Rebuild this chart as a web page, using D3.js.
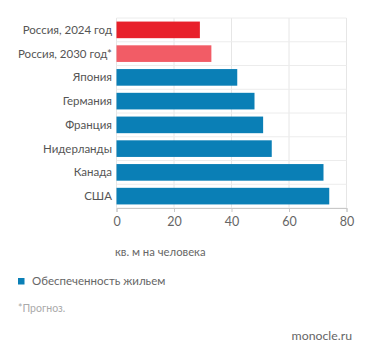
<!DOCTYPE html>
<html><head><meta charset="utf-8">
<script src="https://cdn.jsdelivr.net/npm/d3@7"></script>
<style>body{margin:0;background:#fff}svg{display:block}text{font-family:Lato,"Open Sans",sans-serif}</style>
</head><body>
<script>
const categories = ["Россия, 2024 год","Россия, 2030 год*","Япония","Германия","Франция","Нидерланды","Канада","США"];
const values = [29,33,42,48,51,54,72,74];
const barColors = ["#e8202a","#f25c66","#0a7fb6","#0a7fb6","#0a7fb6","#0a7fb6","#0a7fb6","#0a7fb6"];
const xTicks = [0,20,40,60,80];
const axisTitle = "кв. м на человека";
const legendLabel = "Обеспеченность жильем";
const note = "*Прогноз.";
const source = "monocle.ru";

const W=371,H=358;
const svg=d3.select("body").append("svg").attr("width",W).attr("height",H);
const x=d3.scaleLinear().domain([0,80]).range([116.5,346.5]);
const y=d3.scaleBand().domain(categories).range([18,208]).paddingInner(0.3).paddingOuter(0.15);

const g=svg.append("g");
g.selectAll("line.v").data(xTicks).join("line")
 .attr("x1",d=>x(d)).attr("x2",d=>x(d)).attr("y1",18).attr("y2",208)
 .attr("stroke","#e6e6e6").attr("stroke-width",1);
const bounds=categories.map(c=>y(c)-y.step()*y.paddingInner()/2).concat([208]);
g.selectAll("line.h").data(bounds).join("line")
 .attr("x1",x(0)).attr("x2",x(80)).attr("y1",d=>d).attr("y2",d=>d)
 .attr("stroke","#ececec").attr("stroke-width",1);

svg.selectAll("rect.bar").data(values).join("rect")
 .attr("x",x(0)).attr("y",(d,i)=>y(categories[i]))
 .attr("width",d=>x(d)-x(0)).attr("height",y.bandwidth())
 .attr("fill",(d,i)=>barColors[i]);

svg.selectAll("text.cat").data(categories).join("text")
 .attr("x",112).attr("y",d=>y(d)+y.bandwidth()/2).attr("dy","0.35em")
 .attr("text-anchor","end").attr("font-size",11.5).attr("fill","#555").text(d=>d);

const ax=svg.append("g").attr("transform","translate(0,208)")
 .call(d3.axisBottom(x).tickValues(xTicks).tickSize(4).tickPadding(5));
ax.select(".domain").attr("stroke","#c8c8c8");
ax.selectAll(".tick line").attr("stroke","#c8c8c8");
ax.selectAll(".tick text").attr("font-size",12.5).attr("fill","#666").style("font-family","Lato,'Open Sans',sans-serif");

svg.append("text").attr("x",115).attr("y",256).attr("font-size",11.3).attr("fill","#666").text(axisTitle);

svg.append("rect").attr("x",18).attr("y",278).attr("width",6.5).attr("height",6.5).attr("fill","#0a7fb6");
svg.append("text").attr("x",32).attr("y",285).attr("font-size",11.5).attr("fill","#666").text(legendLabel);

svg.append("text").attr("x",18).attr("y",312).attr("font-size",10.5).attr("fill","#aaa").text(note);
svg.append("text").attr("x",352).attr("y",340).attr("text-anchor","end").attr("font-size",12.3).attr("fill","#666").text(source);
</script>
</body></html>
